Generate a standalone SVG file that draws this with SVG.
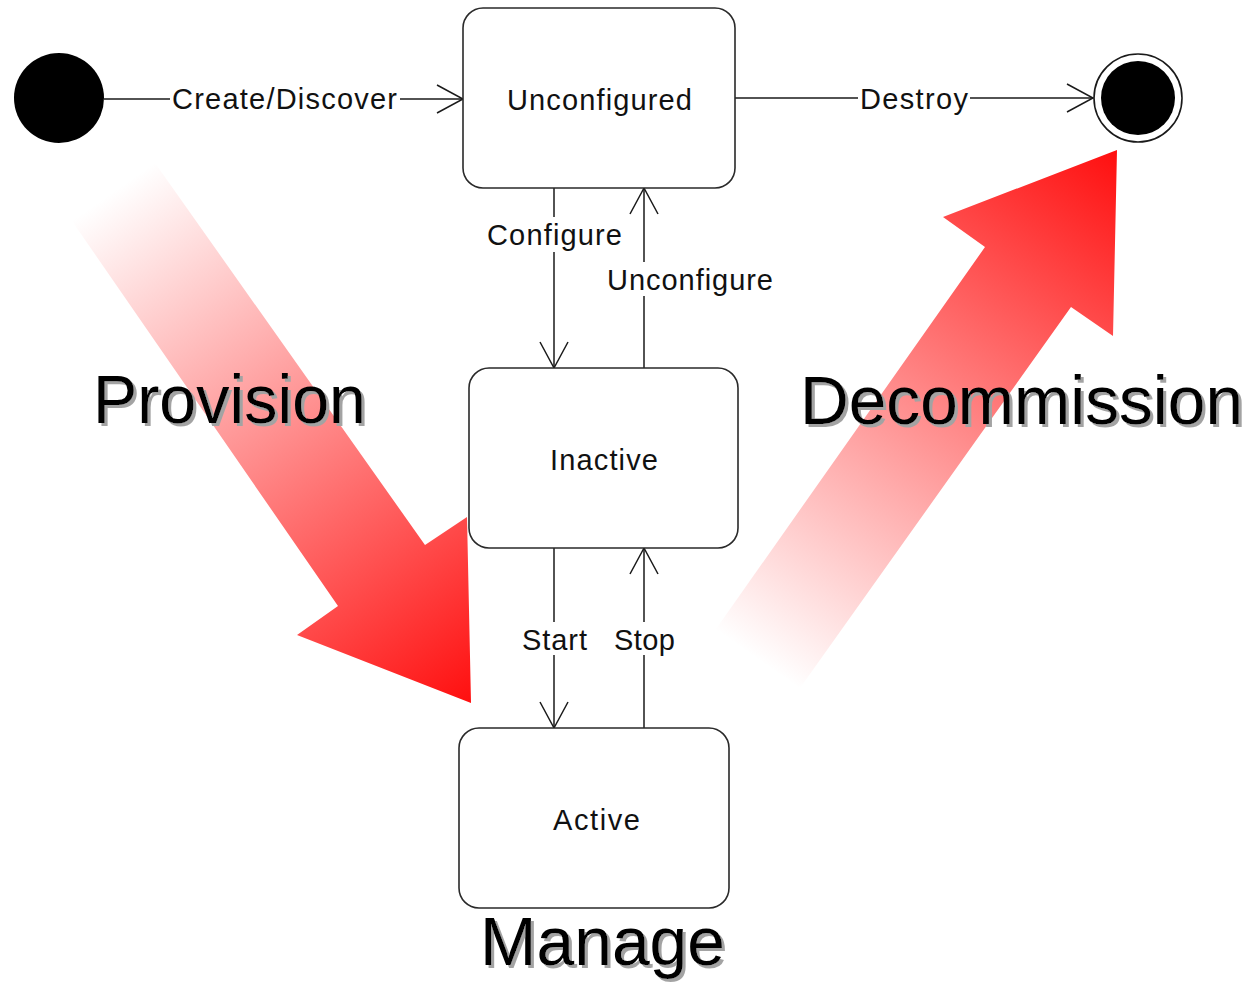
<svg xmlns="http://www.w3.org/2000/svg" width="1257" height="983" viewBox="0 0 1257 983">
  <style>
    .box { fill: #ffffff; stroke: #2a2a2a; stroke-width: 1.6; }
    .edge { fill: none; stroke: #1a1a1a; stroke-width: 1.5; }
    .lbl { font-family: "Liberation Sans", Arial, sans-serif; font-size: 29px; fill: #111111; text-anchor: middle; }
    .lblbg { fill: #ffffff; }
    .big { font-family: "Liberation Sans", Arial, sans-serif; font-size: 69px; fill: #000000; filter: url(#shadow); }
  </style>
  <defs>
    <filter id="shadow" x="-5%" y="-20%" width="115%" height="150%">
      <feFlood flood-color="#a3a3a3" result="c"/>
      <feComposite in="c" in2="SourceAlpha" operator="in" result="s"/>
      <feOffset in="s" dx="3" dy="3" result="o"/>
      <feMerge>
        <feMergeNode in="o"/>
        <feMergeNode in="SourceGraphic"/>
      </feMerge>
    </filter>
    <marker id="open" markerUnits="userSpaceOnUse" markerWidth="40" markerHeight="40" refX="0" refY="0" viewBox="-30 -20 34 40" orient="auto" overflow="visible">
      <path d="M-26,-14 L0,0 L-26,14" fill="none" stroke="#1a1a1a" stroke-width="1.5"/>
    </marker>
    <linearGradient id="gProv" gradientUnits="userSpaceOnUse" x1="113" y1="192" x2="471" y2="703">
      <stop offset="0" stop-color="#ffffff"/>
      <stop offset="1" stop-color="#ff0f0f"/>
    </linearGradient>
    <linearGradient id="gDecom" gradientUnits="userSpaceOnUse" x1="758" y1="660" x2="1117" y2="150">
      <stop offset="0" stop-color="#ffffff"/>
      <stop offset="1" stop-color="#ff0f0f"/>
    </linearGradient>
  </defs>

  <g id="bigArrows">
    <polygon id="provisionArrow" points="155,163 425,545 467,517 471,703 297,635 338,606 72,221" fill="url(#gProv)"/>
    <polygon id="decommissionArrow" points="800,688 1071,307 1113,336 1117,150 943,217 985,247 716,629" fill="url(#gDecom)"/>
  </g>

  <g id="connectors">
    <line class="edge" x1="104" y1="99" x2="463" y2="99" marker-end="url(#open)"/>
    <line class="edge" x1="735" y1="98" x2="1093" y2="98" marker-end="url(#open)"/>
    <line class="edge" x1="554" y1="188" x2="554" y2="368" marker-end="url(#open)"/>
    <line class="edge" x1="644" y1="368" x2="644" y2="188" marker-end="url(#open)"/>
    <line class="edge" x1="554" y1="548" x2="554" y2="728" marker-end="url(#open)"/>
    <line class="edge" x1="644" y1="728" x2="644" y2="548" marker-end="url(#open)"/>
    <rect class="lblbg" x="170" y="86" width="230" height="28"/>
    <text class="lbl" x="284.5" y="109" textLength="225" lengthAdjust="spacing">Create/Discover</text>
    <rect class="lblbg" x="858" y="86" width="112" height="28"/>
    <text class="lbl" x="914" y="109" textLength="108" lengthAdjust="spacing">Destroy</text>
    <rect class="lblbg" x="485" y="217" width="139" height="35"/>
    <text class="lbl" x="554.5" y="245" textLength="135" lengthAdjust="spacing">Configure</text>
    <rect class="lblbg" x="605" y="262" width="170" height="34"/>
    <text class="lbl" x="690" y="290" textLength="166" lengthAdjust="spacing">Unconfigure</text>
    <rect class="lblbg" x="519" y="622" width="71" height="33"/>
    <text class="lbl" x="554.5" y="650" textLength="65" lengthAdjust="spacing">Start</text>
    <rect class="lblbg" x="611" y="622" width="67" height="33"/>
    <text class="lbl" x="644.5" y="650" textLength="61" lengthAdjust="spacing">Stop</text>
  </g>

  <g id="initial">
    <circle cx="59" cy="98" r="45" fill="#000000"/>
  </g>

  <g id="final">
    <circle cx="1138" cy="98" r="44" fill="#ffffff" stroke="#1a1a1a" stroke-width="1.6"/>
    <circle cx="1138" cy="98" r="37" fill="#000000"/>
  </g>

  <g id="unconfigured">
    <rect class="box" x="463" y="8" width="272" height="180" rx="20" ry="20"/>
    <text class="lbl" x="599.5" y="110" textLength="185" lengthAdjust="spacing">Unconfigured</text>
  </g>

  <g id="inactive">
    <rect class="box" x="469" y="368" width="269" height="180" rx="20" ry="20"/>
    <text class="lbl" x="604" y="470" textLength="108" lengthAdjust="spacing">Inactive</text>
  </g>

  <g id="active">
    <rect class="box" x="459" y="728" width="270" height="180" rx="20" ry="20"/>
    <text class="lbl" x="596.5" y="830" textLength="87" lengthAdjust="spacing">Active</text>
  </g>

  <g id="provisionLabel">
    <text class="big" x="93" y="423" textLength="273" lengthAdjust="spacingAndGlyphs">Provision</text>
  </g>

  <g id="decommissionLabel">
    <text class="big" x="800" y="424" textLength="443" lengthAdjust="spacingAndGlyphs">Decommission</text>
  </g>

  <g id="manageLabel">
    <text class="big" x="480" y="965" textLength="245" lengthAdjust="spacingAndGlyphs">Manage</text>
  </g>
</svg>
